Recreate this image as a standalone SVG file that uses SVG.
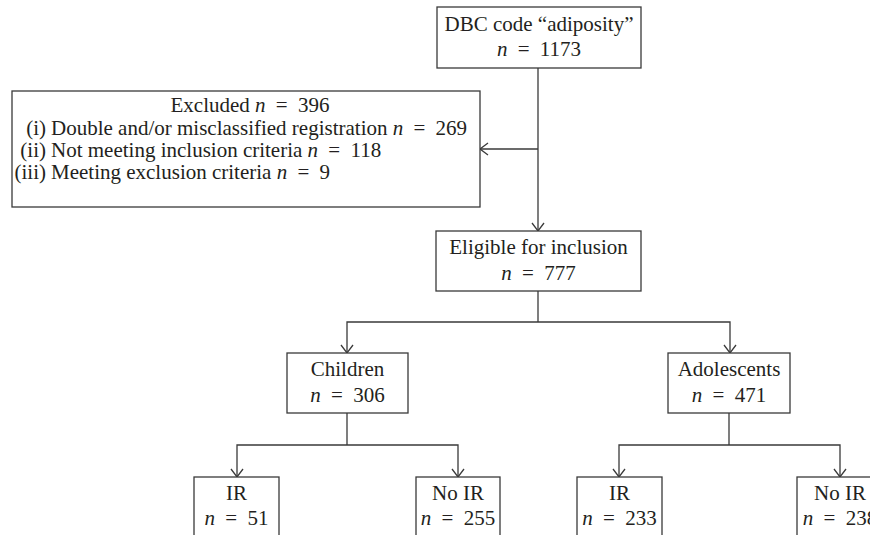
<svg xmlns="http://www.w3.org/2000/svg" width="870" height="535" viewBox="0 0 870 535">
  <style>
    .box { fill: #ffffff; stroke: #3a3a3a; stroke-width: 1.3; }
    .t { font-family: "Liberation Serif", "Times New Roman", serif; font-size: 21px; fill: #231f20; }
    .c { text-anchor: middle; }
    .e { text-anchor: end; }
    .i { font-style: italic; }
    .conn { fill: none; stroke: #3a3a3a; stroke-width: 1.3; }
  </style>
  <defs>
    <marker id="arr" markerUnits="userSpaceOnUse" markerWidth="12" markerHeight="14" viewBox="-10 -7 12 14" refX="0" refY="0" orient="auto">
      <path d="M -8 -6 L 0 0 L -8 6" fill="none" stroke="#3a3a3a" stroke-width="1.3"/>
    </marker>
  </defs>
  <rect width="870" height="535" fill="#ffffff"/>

  <g id="connectors">
    <path class="conn" d="M 538 68 L 538 231" marker-end="url(#arr)"/>
    <path class="conn" d="M 538 149 L 480 149" marker-end="url(#arr)"/>
    <path class="conn" d="M 538 291 L 538 322"/>
    <path class="conn" d="M 538 322 L 347 322 L 347 353" marker-end="url(#arr)"/>
    <path class="conn" d="M 538 322 L 730 322 L 730 353" marker-end="url(#arr)"/>
    <path class="conn" d="M 347 413 L 347 445"/>
    <path class="conn" d="M 347 445 L 237 445 L 237 477" marker-end="url(#arr)"/>
    <path class="conn" d="M 347 445 L 458 445 L 458 477" marker-end="url(#arr)"/>
    <path class="conn" d="M 729 413 L 729 445"/>
    <path class="conn" d="M 729 445 L 619 445 L 619 477" marker-end="url(#arr)"/>
    <path class="conn" d="M 729 445 L 840 445 L 840 477" marker-end="url(#arr)"/>
  </g>

  <g id="dbc">
    <rect class="box" x="437" y="7" width="204" height="61"/>
    <text class="t c" x="539" y="31">DBC code “adiposity”</text>
    <text class="t c" x="539" y="56"><tspan class="i">n</tspan> <tspan dx="5">=</tspan> <tspan dx="5">1173</tspan></text>
  </g>

  <g id="excluded">
    <rect class="box" x="12" y="91" width="468" height="116"/>
    <text class="t c" x="250" y="112">Excluded <tspan class="i">n</tspan> <tspan dx="5">=</tspan> <tspan dx="5">396</tspan></text>
    <text class="t e" x="46" y="135">(i)</text>
    <text class="t" x="51" y="135">Double and/or misclassified registration <tspan class="i">n</tspan> <tspan dx="5">=</tspan> <tspan dx="5">269</tspan></text>
    <text class="t e" x="46" y="157">(ii)</text>
    <text class="t" x="51" y="157">Not meeting inclusion criteria <tspan class="i">n</tspan> <tspan dx="5">=</tspan> <tspan dx="5">118</tspan></text>
    <text class="t e" x="46" y="179">(iii)</text>
    <text class="t" x="51" y="179">Meeting exclusion criteria <tspan class="i">n</tspan> <tspan dx="5">=</tspan> <tspan dx="5">9</tspan></text>
  </g>

  <g id="eligible">
    <rect class="box" x="436" y="231" width="205" height="60"/>
    <text class="t c" x="538.5" y="254">Eligible for inclusion</text>
    <text class="t c" x="538.5" y="280"><tspan class="i">n</tspan> <tspan dx="5">=</tspan> <tspan dx="5">777</tspan></text>
  </g>

  <g id="children">
    <rect class="box" x="287" y="353" width="121" height="60"/>
    <text class="t c" x="347.5" y="376">Children</text>
    <text class="t c" x="347.5" y="402"><tspan class="i">n</tspan> <tspan dx="5">=</tspan> <tspan dx="5">306</tspan></text>
  </g>

  <g id="adolescents">
    <rect class="box" x="668" y="353" width="122" height="60"/>
    <text class="t c" x="729" y="376">Adolescents</text>
    <text class="t c" x="729" y="402"><tspan class="i">n</tspan> <tspan dx="5">=</tspan> <tspan dx="5">471</tspan></text>
  </g>

  <g id="children-ir">
    <rect class="box" x="194" y="477" width="85" height="80"/>
    <text class="t c" x="236.5" y="500">IR</text>
    <text class="t c" x="236.5" y="525"><tspan class="i">n</tspan> <tspan dx="5">=</tspan> <tspan dx="5">51</tspan></text>
  </g>

  <g id="children-noir">
    <rect class="box" x="416" y="477" width="84" height="80"/>
    <text class="t c" x="458" y="500">No IR</text>
    <text class="t c" x="458" y="525"><tspan class="i">n</tspan> <tspan dx="5">=</tspan> <tspan dx="5">255</tspan></text>
  </g>

  <g id="adolescents-ir">
    <rect class="box" x="577" y="477" width="85" height="80"/>
    <text class="t c" x="619.5" y="500">IR</text>
    <text class="t c" x="619.5" y="525"><tspan class="i">n</tspan> <tspan dx="5">=</tspan> <tspan dx="5">233</tspan></text>
  </g>

  <g id="adolescents-noir">
    <rect class="box" x="797" y="477" width="86" height="80"/>
    <text class="t c" x="840" y="500">No IR</text>
    <text class="t c" x="840" y="525"><tspan class="i">n</tspan> <tspan dx="5">=</tspan> <tspan dx="5">238</tspan></text>
  </g>
</svg>
